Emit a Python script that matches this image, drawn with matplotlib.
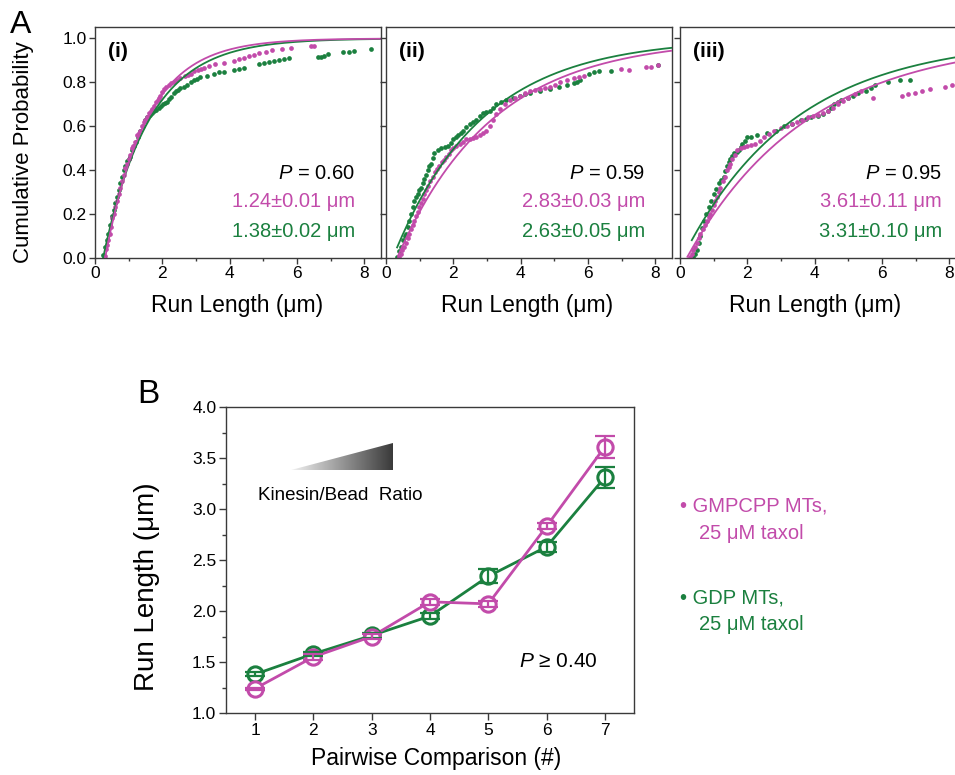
import numpy as np
import matplotlib
matplotlib.use('Agg')
import matplotlib.pyplot as plt
from matplotlib.patches import Polygon
from matplotlib.ticker import MultipleLocator, FormatStrFormatter
from matplotlib.colors import LinearSegmentedColormap

plt.rcParams['font.family'] = ['Liberation Sans', 'DejaVu Sans']
plt.rcParams['mathtext.fontset'] = 'custom'
plt.rcParams['mathtext.rm'] = 'Liberation Sans'
plt.rcParams['mathtext.it'] = 'Liberation Sans:italic'

MAG = '#C24BAA'
GRN = '#1B803F'
SPINE = '#3a3a3a'

# ---------------- data: panel A ----------------
panel_labels = ['(i)', '(ii)', '(iii)']
p_values = ['0.60', '0.59', '0.95']
mag_len = [1.24, 2.83, 3.61]
mag_len_err = [0.01, 0.03, 0.11]
grn_len = [1.38, 2.63, 3.31]
grn_len_err = [0.02, 0.05, 0.10]
mag_fit_x0 = [0.30, 0.33, 0.20]
grn_fit_x0 = [0.24, 0.20, 0.07]
mag_fit_start = [0.30, 0.36, 0.22]
grn_fit_start = [0.24, 0.33, 0.35]

mag_i_x = [0.30, 0.33, 0.36, 0.40, 0.44, 0.48, 0.52, 0.55, 0.60, 0.65, 0.70, 0.75, 0.80, 0.85,
           0.90, 0.95, 1.00, 1.05, 1.10, 1.14, 1.20, 1.26, 1.30, 1.34, 1.40, 1.46, 1.50, 1.54,
           1.60, 1.66, 1.70, 1.74, 1.80, 1.86, 1.90, 1.94, 2.00, 2.06, 2.12, 2.19, 2.26, 2.34,
           2.44, 2.54, 2.66, 2.75, 2.84, 2.95, 3.05, 3.15, 3.23, 3.38, 3.58, 3.83, 4.13, 4.28,
           4.43, 4.58, 4.73, 4.88, 5.07, 5.27, 5.57, 5.82, 6.42, 6.50]
mag_i_y = [0.01, 0.04, 0.06, 0.08, 0.11, 0.14, 0.18, 0.20, 0.23, 0.26, 0.29, 0.32, 0.35, 0.38,
           0.41, 0.43, 0.45, 0.47, 0.50, 0.51, 0.53, 0.56, 0.57, 0.58, 0.60, 0.62, 0.63, 0.64,
           0.66, 0.67, 0.68, 0.69, 0.71, 0.72, 0.73, 0.74, 0.755, 0.77, 0.78, 0.79, 0.795, 0.80,
           0.81, 0.82, 0.83, 0.835, 0.84, 0.85, 0.855, 0.86, 0.867, 0.876, 0.882, 0.89, 0.899, 0.905,
           0.913, 0.92, 0.925, 0.933, 0.937, 0.945, 0.952, 0.958, 0.966, 0.966]
grn_i_x = [0.25, 0.30, 0.35, 0.40, 0.45, 0.50, 0.55, 0.60, 0.65, 0.70, 0.75, 0.80, 0.85, 0.90,
           0.95, 1.00, 1.04, 1.10, 1.16, 1.22, 1.29, 1.35, 1.42, 1.49, 1.55, 1.62, 1.69, 1.75,
           1.82, 1.89, 1.95, 2.02, 2.08, 2.14, 2.20, 2.27, 2.34, 2.40, 2.47, 2.54, 2.64, 2.74,
           2.84, 2.93, 3.03, 3.13, 3.33, 3.53, 3.68, 3.83, 4.13, 4.28, 4.43, 4.88, 5.02, 5.17,
           5.32, 5.47, 5.62, 5.77, 6.62, 6.72, 6.82, 6.92, 7.36, 7.56, 7.71, 8.21]
grn_i_y = [0.014, 0.05, 0.08, 0.11, 0.15, 0.19, 0.22, 0.25, 0.28, 0.31, 0.34, 0.37, 0.40, 0.42,
           0.44, 0.45, 0.46, 0.49, 0.51, 0.53, 0.553, 0.58, 0.60, 0.63, 0.64, 0.65, 0.66, 0.67,
           0.675, 0.682, 0.69, 0.70, 0.705, 0.712, 0.725, 0.735, 0.75, 0.76, 0.765, 0.773, 0.78, 0.788,
           0.80, 0.81, 0.817, 0.823, 0.83, 0.838, 0.845, 0.849, 0.856, 0.86, 0.864, 0.882, 0.887, 0.891,
           0.897, 0.902, 0.907, 0.913, 0.914, 0.917, 0.922, 0.928, 0.937, 0.94, 0.943, 0.951]

mag_ii_x = [0.39, 0.44, 0.49, 0.54, 0.59, 0.64, 0.69, 0.74, 0.79, 0.84, 0.89, 0.94, 0.99, 1.04,
            1.09, 1.14, 1.19, 1.26, 1.32, 1.39, 1.46, 1.52, 1.59, 1.66, 1.72, 1.79, 1.86, 1.92,
            1.99, 2.09, 2.19, 2.29, 2.39, 2.49, 2.58, 2.68, 2.78, 2.88, 2.98, 3.08, 3.18, 3.28,
            3.38, 3.53, 3.68, 3.83, 3.98, 4.13, 4.28, 4.43, 4.58, 4.73, 4.88, 5.03, 5.18, 5.38,
            5.58, 5.73, 5.88, 6.98, 7.23, 7.72, 7.87, 8.07]
mag_ii_y = [0.005, 0.02, 0.035, 0.05, 0.07, 0.09, 0.11, 0.13, 0.15, 0.17, 0.19, 0.21, 0.23, 0.25,
            0.27, 0.29, 0.31, 0.33, 0.35, 0.37, 0.39, 0.405, 0.42, 0.435, 0.445, 0.46, 0.475, 0.49,
            0.50, 0.51, 0.52, 0.53, 0.54, 0.54, 0.545, 0.55, 0.56, 0.57, 0.58, 0.60, 0.63, 0.655,
            0.68, 0.70, 0.72, 0.73, 0.74, 0.75, 0.76, 0.765, 0.77, 0.775, 0.78, 0.79, 0.80, 0.81,
            0.82, 0.825, 0.83, 0.86, 0.858, 0.868, 0.87, 0.88]
grn_ii_x = [0.34, 0.38, 0.44, 0.50, 0.55, 0.59, 0.64, 0.69, 0.74, 0.79, 0.84, 0.89, 0.94, 0.99,
            1.04, 1.09, 1.14, 1.19, 1.24, 1.29, 1.34, 1.39, 1.44, 1.54, 1.64, 1.74, 1.84, 1.92,
            1.99, 2.07, 2.14, 2.22, 2.29, 2.39, 2.49, 2.58, 2.68, 2.78, 2.88, 2.98, 3.08, 3.18,
            3.28, 3.43, 3.58, 3.78, 3.98, 4.13, 4.28, 4.58, 4.88, 5.13, 5.38, 5.58, 5.68, 5.78,
            6.03, 6.18, 6.33, 6.68, 8.07]
grn_ii_y = [0.006, 0.03, 0.05, 0.08, 0.10, 0.11, 0.14, 0.17, 0.20, 0.23, 0.26, 0.28, 0.29, 0.31,
            0.32, 0.34, 0.36, 0.38, 0.40, 0.42, 0.43, 0.455, 0.48, 0.49, 0.50, 0.505, 0.51, 0.525,
            0.54, 0.55, 0.56, 0.57, 0.58, 0.595, 0.61, 0.62, 0.63, 0.645, 0.66, 0.665, 0.67, 0.685,
            0.70, 0.71, 0.72, 0.73, 0.74, 0.745, 0.75, 0.76, 0.77, 0.78, 0.79, 0.795, 0.80, 0.81,
            0.84, 0.845, 0.85, 0.853, 0.88]

mag_iii_x = [0.30, 0.35, 0.40, 0.45, 0.50, 0.55, 0.60, 0.67, 0.73, 0.80, 0.85, 0.90, 0.95, 1.00,
             1.05, 1.10, 1.15, 1.20, 1.27, 1.33, 1.40, 1.45, 1.50, 1.55, 1.62, 1.70, 1.80, 1.90,
             2.00, 2.12, 2.24, 2.37, 2.49, 2.64, 2.79, 2.99, 3.19, 3.34, 3.49, 3.64, 3.79, 3.94,
             4.09, 4.24, 4.39, 4.54, 4.69, 4.84, 4.99, 5.19, 5.39, 5.74, 6.59, 6.79, 6.99, 7.18,
             7.43, 7.88, 8.08]
mag_iii_y = [0.005, 0.02, 0.035, 0.05, 0.07, 0.09, 0.11, 0.13, 0.15, 0.17, 0.185, 0.20, 0.22, 0.24,
             0.26, 0.28, 0.30, 0.32, 0.35, 0.37, 0.40, 0.415, 0.43, 0.45, 0.47, 0.49, 0.50, 0.505,
             0.51, 0.515, 0.52, 0.535, 0.55, 0.565, 0.58, 0.59, 0.60, 0.61, 0.62, 0.63, 0.64, 0.645,
             0.65, 0.66, 0.67, 0.685, 0.70, 0.715, 0.73, 0.745, 0.76, 0.73, 0.74, 0.745, 0.75, 0.76,
             0.77, 0.78, 0.79]
grn_iii_x = [0.40, 0.45, 0.50, 0.55, 0.60, 0.65, 0.70, 0.77, 0.85, 0.92, 1.00, 1.07, 1.15, 1.22,
             1.30, 1.35, 1.40, 1.45, 1.50, 1.55, 1.60, 1.68, 1.75, 1.80, 1.85, 1.92, 2.00, 2.10,
             2.29, 2.59, 2.84, 3.09, 3.34, 3.59, 3.74, 3.89, 4.09, 4.24, 4.39, 4.49, 4.59, 4.69,
             4.79, 4.99, 5.14, 5.29, 5.54, 5.69, 5.79, 6.19, 6.54, 6.84]
grn_iii_y = [0.005, 0.02, 0.036, 0.07, 0.10, 0.135, 0.17, 0.20, 0.23, 0.26, 0.29, 0.315, 0.34, 0.355,
             0.37, 0.395, 0.42, 0.435, 0.45, 0.465, 0.48, 0.485, 0.49, 0.505, 0.52, 0.535, 0.55, 0.553,
             0.56, 0.57, 0.58, 0.60, 0.61, 0.63, 0.635, 0.64, 0.645, 0.655, 0.67, 0.685, 0.70, 0.71,
             0.72, 0.73, 0.74, 0.75, 0.76, 0.775, 0.79, 0.80, 0.81, 0.81]

mag_pts = [(mag_i_x, mag_i_y), (mag_ii_x, mag_ii_y), (mag_iii_x, mag_iii_y)]
grn_pts = [(grn_i_x, grn_i_y), (grn_ii_x, grn_ii_y), (grn_iii_x, grn_iii_y)]

# ---------------- data: panel B ----------------
pairs = [1, 2, 3, 4, 5, 6, 7]
mag_run = [1.24, 1.55, 1.75, 2.09, 2.07, 2.83, 3.61]
mag_run_err = [0.01, 0.03, 0.02, 0.03, 0.03, 0.03, 0.11]
grn_run = [1.38, 1.58, 1.76, 1.95, 2.34, 2.63, 3.31]
grn_run_err = [0.02, 0.02, 0.02, 0.03, 0.07, 0.05, 0.10]

# ---------------- figure ----------------
W, H = 955, 775
fig = plt.figure(figsize=(W / 100, H / 100), dpi=100)


def fx(px):
    return px / W


def fy(py):
    return 1 - py / H


def style_spines(ax):
    for s in ax.spines.values():
        s.set_color(SPINE)
        s.set_linewidth(1.0)


a_left = [95, 386, 680]
a_top, a_bot = 27, 258
a_w = 286
for k in range(3):
    ax = fig.add_axes([fx(a_left[k]), fy(a_bot), a_w / W, (a_bot - a_top) / H])
    style_spines(ax)
    gx, gy = grn_pts[k]
    mx, my = mag_pts[k]
    ax.plot(gx, gy, 'o', ms=3.4, color=GRN, mew=0, zorder=2)
    ax.plot(mx, my, 'o', ms=3.4, color=MAG, mew=0, zorder=2)
    xs = np.linspace(grn_fit_start[k], 8.7, 400)
    ax.plot(xs, 1 - np.exp(-(xs - grn_fit_x0[k]) / grn_len[k]), color=GRN, lw=1.3, zorder=3)
    xs = np.linspace(mag_fit_start[k], 8.7, 400)
    ax.plot(xs, 1 - np.exp(-(xs - mag_fit_x0[k]) / mag_len[k]), color=MAG, lw=1.3, zorder=3)
    ax.set_xlim(0, 8.5)
    ax.set_ylim(0, 1.052)
    ax.set_xticks([0, 2, 4, 6, 8])
    ax.xaxis.set_minor_locator(MultipleLocator(1))
    ax.set_yticks([0, 0.2, 0.4, 0.6, 0.8, 1.0])
    ax.yaxis.set_major_formatter(FormatStrFormatter('%.1f'))
    ax.tick_params(which='major', direction='out', length=4, width=1, color=SPINE,
                   labelsize=12.5, pad=2)
    ax.tick_params(which='minor', direction='out', length=2.5, width=1, color=SPINE)
    if k > 0:
        ax.tick_params(labelleft=False)
    ax.text(0.045, 0.935, panel_labels[k], transform=ax.transAxes, fontsize=15,
            fontweight='bold', ha='left', va='top')
    xr = [0.909, 0.906, 0.916][k]
    ax.text(xr, 0.342, '$P$ = ' + p_values[k], transform=ax.transAxes, fontsize=14.5,
            ha='right', va='baseline', color='black')
    ax.text(xr, 0.221, f'{mag_len[k]:.2f}\u00b1{mag_len_err[k]:.2f} \u03bcm', transform=ax.transAxes,
            fontsize=14.5, ha='right', va='baseline', color=MAG)
    ax.text(xr, 0.091, f'{grn_len[k]:.2f}\u00b1{grn_len_err[k]:.2f} \u03bcm', transform=ax.transAxes,
            fontsize=14.5, ha='right', va='baseline', color=GRN)

for cx in [237, 527, 815]:
    fig.text(fx(cx), fy(312), 'Run Length (\u03bcm)', fontsize=16.5, ha='center', va='baseline')
fig.text(fx(24), fy(152), 'Cumulative Probability', fontsize=16, rotation=90,
         ha='center', va='center')
fig.text(fx(10), fy(33), 'A', fontsize=23, ha='left', va='baseline')

# ---------------- panel B ----------------
axB = fig.add_axes([fx(226), fy(713), (634 - 226) / W, (713 - 407) / H])
style_spines(axB)
axB.plot(pairs, grn_run, '-', color=GRN, lw=2, zorder=2)
axB.plot(pairs, mag_run, '-', color=MAG, lw=2, zorder=2.2)
axB.plot(pairs, grn_run, 'o', ms=11, mfc='white', mec=GRN, mew=2.2, zorder=2.5)
axB.plot(pairs, mag_run, 'o', ms=11, mfc='white', mec=MAG, mew=2.2, zorder=2.6)
axB.errorbar(pairs, grn_run, yerr=grn_run_err, fmt='none', ecolor=GRN, elinewidth=1.6,
             capsize=7, capthick=1.6, zorder=3)
axB.errorbar(pairs, mag_run, yerr=mag_run_err, fmt='none', ecolor=MAG, elinewidth=1.6,
             capsize=7, capthick=1.6, zorder=3.1)

# gradient wedge
grad = np.linspace(0, 1, 256).reshape(1, -1)
cmap = LinearSegmentedColormap.from_list('wedge', ['#f2f2f2', '#3a3a3a'])
tri = [[1.62, 3.38], [3.37, 3.38], [3.37, 3.65]]
im = axB.imshow(grad, cmap=cmap, extent=[1.62, 3.37, 3.38, 3.65], aspect='auto', zorder=1)
poly = Polygon(tri, closed=True, facecolor='none', edgecolor='none', transform=axB.transData)
axB.add_patch(poly)
im.set_clip_path(poly)
axB.text(2.46, 3.09, 'Kinesin/Bead  Ratio', fontsize=13.5, ha='center', va='baseline')
axB.text(6.88, 1.45, '$P$ \u2265 0.40', fontsize=15, ha='right', va='baseline')

axB.set_xlim(0.5, 7.5)
axB.set_ylim(1.0, 4.0)
axB.set_xticks(pairs)
axB.set_yticks([1.0, 1.5, 2.0, 2.5, 3.0, 3.5, 4.0])
axB.yaxis.set_major_formatter(FormatStrFormatter('%.1f'))
axB.yaxis.set_minor_locator(MultipleLocator(0.25))
axB.tick_params(which='major', direction='out', length=5, width=1, color=SPINE,
                labelsize=12.5, pad=2)
axB.tick_params(which='minor', direction='out', length=3, width=1, color=SPINE)

fig.text(fx(436), fy(765), 'Pairwise Comparison (#)', fontsize=16.5, ha='center', va='baseline')
fig.text(fx(147), fy(587), 'Run Length (\u03bcm)', fontsize=20, rotation=90,
         ha='center', va='center')
fig.text(fx(137), fy(403), 'B', fontsize=24, ha='left', va='baseline')

# legend text
fig.text(fx(680), fy(512), '\u2022 GMPCPP MTs,', fontsize=14.5, color=MAG, ha='left', va='baseline')
fig.text(fx(699), fy(539), '25 \u03bcM taxol', fontsize=14.5, color=MAG, ha='left', va='baseline')
fig.text(fx(680), fy(603), '\u2022 GDP MTs,', fontsize=14.5, color=GRN, ha='left', va='baseline')
fig.text(fx(699), fy(630), '25 \u03bcM taxol', fontsize=14.5, color=GRN, ha='left', va='baseline')

fig.savefig('out.png', dpi=100)
